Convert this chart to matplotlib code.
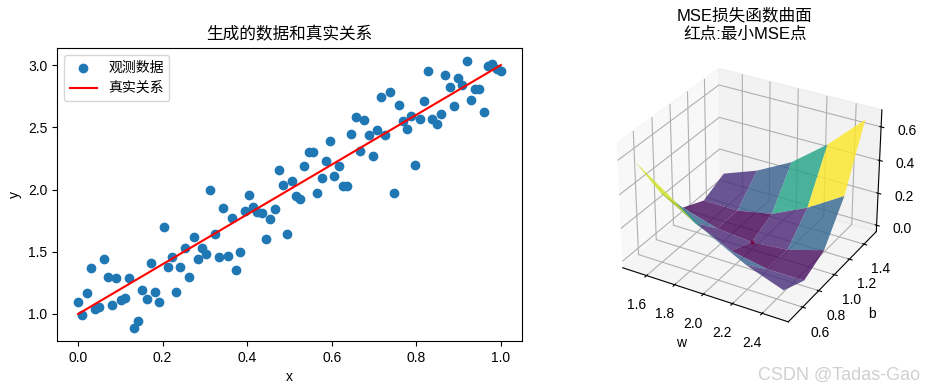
#!/usr/bin/env python3
# -*- coding: utf-8 -*-
import numpy as np
import matplotlib
matplotlib.use('Agg')
import matplotlib.pyplot as plt

plt.rcParams['font.family'] = ['Liberation Sans', 'Noto Sans CJK SC', 'DejaVu Sans']
plt.rcParams['axes.unicode_minus'] = False

x_obs = [0.0, 0.01, 0.02, 0.03, 0.04, 0.05, 0.06, 0.07, 0.08, 0.09,
         0.101, 0.111, 0.121, 0.131, 0.141, 0.152, 0.162, 0.172, 0.182, 0.192,
         0.202, 0.212, 0.222, 0.232, 0.242, 0.253, 0.263, 0.273, 0.283, 0.293,
         0.303, 0.313, 0.323, 0.333, 0.343, 0.354, 0.364, 0.374, 0.384, 0.394,
         0.404, 0.414, 0.424, 0.434, 0.444, 0.455, 0.465, 0.475, 0.485, 0.495,
         0.505, 0.515, 0.525, 0.535, 0.545, 0.556, 0.566, 0.576, 0.586, 0.596,
         0.606, 0.616, 0.626, 0.636, 0.646, 0.657, 0.667, 0.677, 0.687, 0.697,
         0.707, 0.717, 0.727, 0.737, 0.747, 0.758, 0.768, 0.778, 0.788, 0.798,
         0.808, 0.818, 0.828, 0.838, 0.848, 0.859, 0.869, 0.879, 0.889, 0.899,
         0.909, 0.919, 0.929, 0.939, 0.949, 0.96, 0.97, 0.98, 0.99, 1.0]
y_obs = [1.10, 0.99, 1.17, 1.37, 1.04, 1.06, 1.44, 1.30, 1.07, 1.29,
         1.11, 1.13, 1.29, 0.89, 0.94, 1.19, 1.12, 1.41, 1.18, 1.10,
         1.70, 1.38, 1.46, 1.18, 1.38, 1.53, 1.30, 1.62, 1.44, 1.53,
         1.48, 2.00, 1.645, 1.46, 1.855, 1.465, 1.77, 1.355, 1.50, 1.83,
         1.96, 1.86, 1.82, 1.81, 1.60, 1.765, 1.84, 2.16, 2.04, 1.64,
         2.07, 1.95, 1.92, 2.19, 2.30, 2.30, 1.97, 2.09, 2.23, 2.39,
         2.11, 2.19, 2.03, 2.03, 2.45, 2.58, 2.31, 2.56, 2.44, 2.27,
         2.48, 2.74, 2.44, 2.78, 1.97, 2.68, 2.55, 2.49, 2.59, 2.20,
         2.57, 2.71, 2.95, 2.57, 2.53, 2.61, 2.92, 2.82, 2.67, 2.895,
         2.84, 3.03, 2.72, 2.81, 2.81, 2.62, 2.99, 3.01, 2.97, 2.95]
x_true = [0.0, 1.0]
y_true = [1.0, 3.0]

# loss surface
w_grid = [1.5, 1.75, 2.0, 2.25, 2.5]
b_grid = [0.5, 0.75, 1.0, 1.25, 1.5]
mse = [[0.58, 0.295, 0.09, 0.025, 0.09],
       [0.43, 0.17, 0.025, 0.025, 0.17],
       [0.283, 0.068, 0.005, 0.068, 0.283],
       [0.17, 0.025, 0.025, 0.17, 0.45],
       [0.09, 0.025, 0.09, 0.305, 0.655]]
best_w = [2.0]
best_b = [1.0]
best_mse = [0.005]
z_ticks = [0.0, 0.2, 0.4, 0.6]

fig = plt.figure(figsize=(9.25, 3.9), dpi=100)

ax1 = fig.add_axes([57 / 925, 1 - 341 / 390, 465 / 925, 293 / 390])
ax1.scatter(x_obs, y_obs, label='观测数据')
ax1.plot(x_true, y_true, 'r', label='真实关系')
ax1.set_xlabel('x')
ax1.set_ylabel('y')
ax1.set_title('生成的数据和真实关系')
ax1.legend()

ax2 = fig.add_axes([0.649, 0.127, 0.319, 0.756], projection='3d', computed_zorder=False)
W, B = np.meshgrid(w_grid, b_grid, indexing='ij')
ax2.scatter(best_w, best_b, best_mse, color='red', s=3, zorder=1)
ax2.plot_surface(W, B, np.array(mse), cmap='viridis', alpha=0.8, zorder=2)
ax2.set_zticks(z_ticks)
ax2.set_zlim(-0.04, 0.70)
ax2.set_xlabel('w')
ax2.set_ylabel('b')
ax2.set_title('MSE损失函数曲面\n红点:最小MSE点', x=0.49, linespacing=1.3, pad=4.5)

fig.text(0.995, 0.015, 'CSDN @Tadas-Gao', color='#d0d0d0', fontsize=13, ha='right', va='bottom')

fig.savefig('out.png', dpi=100)
